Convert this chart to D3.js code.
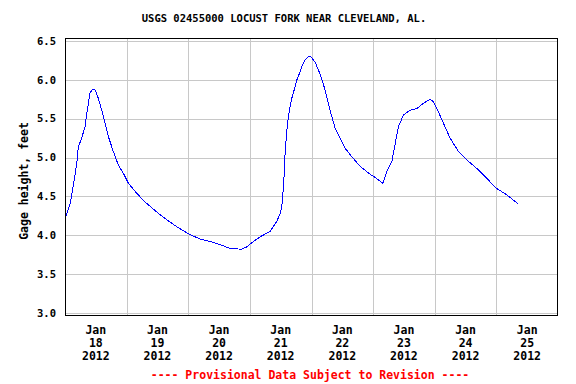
<!DOCTYPE html>
<html><head><meta charset="utf-8">
<script src="https://cdn.jsdelivr.net/npm/d3@7"></script>
<style>body{margin:0;background:#fff}svg{display:block}</style>
</head><body>
<script>
// hours since 2012-01-18 00:00
const hours = [0,1.9,3.2,4.6,5.2,6.5,7.8,8.5,9.7,10.8,11.8,13.0,14.3,15.6,16.9,18.8,20.8,22.7,24.7,27.9,31.8,35.7,39.6,43.5,48.0,52.6,56.5,60.4,64.3,68.8,70.8,73.4,76.0,79.9,82.5,83.8,84.4,84.8,85.3,85.7,86.4,87.0,87.9,88.3,89.6,90.3,91.6,92.2,93.5,94.2,94.8,95.7,97.4,99.3,101.3,103.2,105.2,107.1,109.1,111.7,114.9,118.2,121.4,123.8,125.3,127.3,128.6,129.9,131.8,134.4,137.0,139.6,142.2,143.5,145.4,147.4,150.0,153.2,156.5,160.4,164.3,168.2,172.1,174.7,176.6];
const gage = [4.22,4.39,4.63,4.93,5.14,5.25,5.40,5.57,5.83,5.88,5.87,5.76,5.61,5.44,5.27,5.08,4.90,4.80,4.67,4.54,4.41,4.30,4.20,4.11,4.02,3.95,3.92,3.88,3.83,3.82,3.85,3.92,3.98,4.05,4.18,4.28,4.37,4.50,4.75,5.05,5.35,5.52,5.70,5.76,5.91,6.00,6.11,6.17,6.26,6.28,6.30,6.30,6.23,6.08,5.87,5.61,5.38,5.25,5.12,5.01,4.89,4.80,4.73,4.67,4.82,4.95,5.18,5.40,5.55,5.61,5.63,5.70,5.75,5.72,5.59,5.44,5.25,5.08,4.97,4.86,4.73,4.60,4.52,4.45,4.40];
const yTicks = [3.0,3.5,4.0,4.5,5.0,5.5,6.0,6.5];
const dayLabels = ["18","19","20","21","22","23","24","25"];
const monthLabel = "Jan", yearLabel = "2012";
const title = "USGS 02455000 LOCUST FORK NEAR CLEVELAND, AL.";
const yTitle = "Gage height, feet";
const footer = "---- Provisional Data Subject to Revision ----";

const W = 576, H = 384;
const L = 65, R = 558, T = 38, B = 316;
const t0 = new Date(2012,0,18,0,0);
const t1 = new Date(2012,0,26,0,0);
const x = d3.scaleTime().domain([t0,t1]).range([L,R]);
const y = d3.scaleLinear().domain([2.96,6.54]).range([B,T]);
const toDate = h => new Date(t0.getTime() + h*3600e3);
const data = hours.map((h,i)=>({t:toDate(h), v:gage[i]}));

const svg = d3.select("body").append("svg").attr("width",W).attr("height",H);
const font = "'DejaVu Sans Mono', monospace";

// grid
const mids = d3.range(1,8).map(d=>new Date(2012,0,18+d));
svg.append("g").selectAll("line").data(mids).join("line")
  .attr("x1",d=>Math.round(x(d))+0.5).attr("x2",d=>Math.round(x(d))+0.5)
  .attr("y1",T).attr("y2",B).attr("stroke","#c8c8c8").attr("stroke-width",1);
svg.append("g").selectAll("line").data(yTicks).join("line")
  .attr("x1",L).attr("x2",R)
  .attr("y1",d=>Math.round(y(d))+0.5).attr("y2",d=>Math.round(y(d))+0.5)
  .attr("stroke","#c8c8c8").attr("stroke-width",1);

// line
const line = d3.line().x(d=>x(d.t)).y(d=>y(d.v));
svg.append("path").datum(data).attr("d",line).attr("fill","none")
  .attr("stroke","#0000ff").attr("stroke-width",1).attr("shape-rendering","crispEdges");

// frame
svg.append("rect").attr("x",L+0.5).attr("y",T+0.5).attr("width",R-L-1).attr("height",B-T-1)
  .attr("fill","none").attr("stroke","#000").attr("stroke-width",1);

// y tick labels
svg.append("g").selectAll("text").data(yTicks).join("text")
  .attr("x",56).attr("y",d=>y(d)).attr("dy","0.35em").attr("text-anchor","end")
  .attr("font-family",font).attr("font-weight","bold").attr("font-size","10.5px")
  .text(d=>d3.format(".1f")(d));

// x labels
const noons = dayLabels.map((d,i)=>new Date(2012,0,18+i,12));
const xl = svg.append("g").selectAll("text").data(noons).join("text")
  .attr("text-anchor","middle").attr("font-family",font).attr("font-weight","bold").attr("font-size","11.5px");
xl.append("tspan").attr("x",d=>x(d)).attr("y",334).text(monthLabel);
xl.append("tspan").attr("x",d=>x(d)).attr("y",347).text((d,i)=>dayLabels[i]);
xl.append("tspan").attr("x",d=>x(d)).attr("y",360).text(yearLabel);

// title
svg.append("text").attr("x",284).attr("y",22).attr("text-anchor","middle")
  .attr("font-family",font).attr("font-weight","bold").attr("font-size","10.5px").text(title);

// y title
svg.append("text").attr("transform","translate(28,181) rotate(-90)").attr("text-anchor","middle")
  .attr("font-family",font).attr("font-weight","bold").attr("font-size","11.5px").text(yTitle);

// footer
svg.append("text").attr("x",310).attr("y",379).attr("text-anchor","middle")
  .attr("font-family",font).attr("font-weight","bold").attr("font-size","11.5px")
  .attr("fill","#ff0000").text(footer);
</script>
</body></html>
